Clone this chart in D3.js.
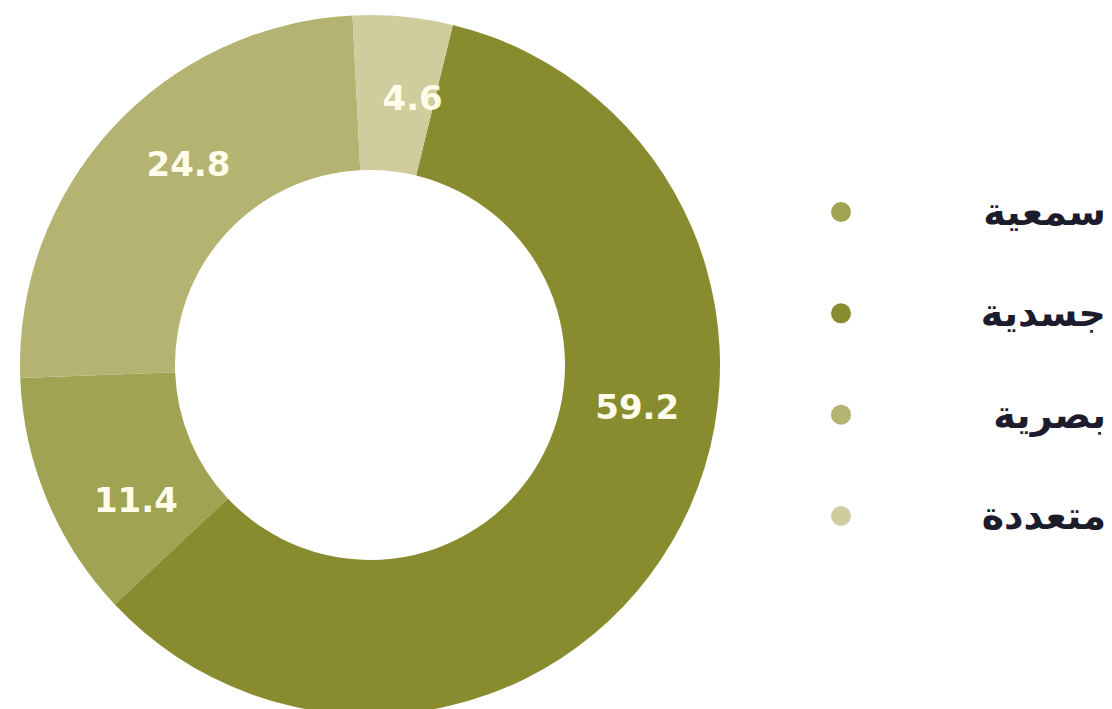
<!DOCTYPE html>
<html>
<head>
<meta charset="utf-8">
<script src="https://cdn.jsdelivr.net/npm/d3@7.9.0/dist/d3.min.js"></script>
<style>
  html, body { margin: 0; padding: 0; background: #fff; overflow: hidden; }
  svg { display: block; }
</style>
</head>
<body>
<svg id="chart" width="1112" height="709"></svg>
<script>
// legend order (top to bottom)
const categories = ["سمعية", "جسدية", "بصرية", "متعددة"];
const values = [11.4, 59.2, 24.8, 4.6];
const colors = ["#a0a452", "#888c2e", "#b5b372", "#cfcc9e"];
// clockwise order of the slices, starting at 12 o'clock
const sliceOrder = ["متعددة", "جسدية", "سمعية", "بصرية"];

let data = categories.map((c, i) => ({ label: c, value: values[i], color: colors[i] }));

const svg = d3.select('#chart');
const cx = 370, cy = 365;
const outerR = 350, innerR = 195;
const rot = -0.05;

let pie = d3.pie()
  .value(d => d.value)
  .sort((a, b) => sliceOrder.indexOf(a.label) - sliceOrder.indexOf(b.label))
  .startAngle(rot)
  .endAngle(2 * Math.PI + rot);

let arcGen = d3.arc().innerRadius(innerR).outerRadius(outerR);
let arcData = pie(data);

let g = svg.append('g').attr('transform', `translate(${cx},${cy})`);

g.selectAll('path')
  .data(arcData)
  .enter()
  .append('path')
  .attr('d', arcGen)
  .attr('fill', d => d.data.color);

// where along each slice the number sits (0 = start, 1 = end)
const labelPos = { "متعددة": 0.72, "جسدية": 0.4, "سمعية": 0.32, "بصرية": 0.56 };
const labelR = (innerR + outerR) / 2 - 2;

g.selectAll('text')
  .data(arcData)
  .enter()
  .append('text')
  .attr('transform', d => {
    let f = labelPos[d.data.label] ?? 0.5;
    let a = d.startAngle + (d.endAngle - d.startAngle) * f;
    return `translate(${labelR * Math.sin(a)},${-labelR * Math.cos(a)})`;
  })
  .attr('text-anchor', 'middle')
  .attr('dominant-baseline', 'central')
  .attr('font-family', 'DejaVu Sans, sans-serif')
  .attr('font-weight', 'bold')
  .attr('font-size', 34)
  .attr('fill', '#fffdea')
  .text(d => d.data.value);

// legend
let legend = svg.append('g');
let ly = d3.scalePoint().domain(categories).range([212, 516]);

categories.forEach((c, i) => {
  legend.append('circle')
    .attr('cx', 841)
    .attr('cy', ly(c))
    .attr('r', 10)
    .attr('fill', colors[i]);
  legend.append('text')
    .attr('x', 1106)
    .attr('y', ly(c))
    .attr('text-anchor', 'end')
    .attr('dominant-baseline', 'central')
    .attr('font-family', 'DejaVu Sans, sans-serif')
    .attr('font-weight', 'bold')
    .attr('font-size', 38)
    .attr('fill', '#1c1c2c')
    .text(c);
});
</script>
</body>
</html>
